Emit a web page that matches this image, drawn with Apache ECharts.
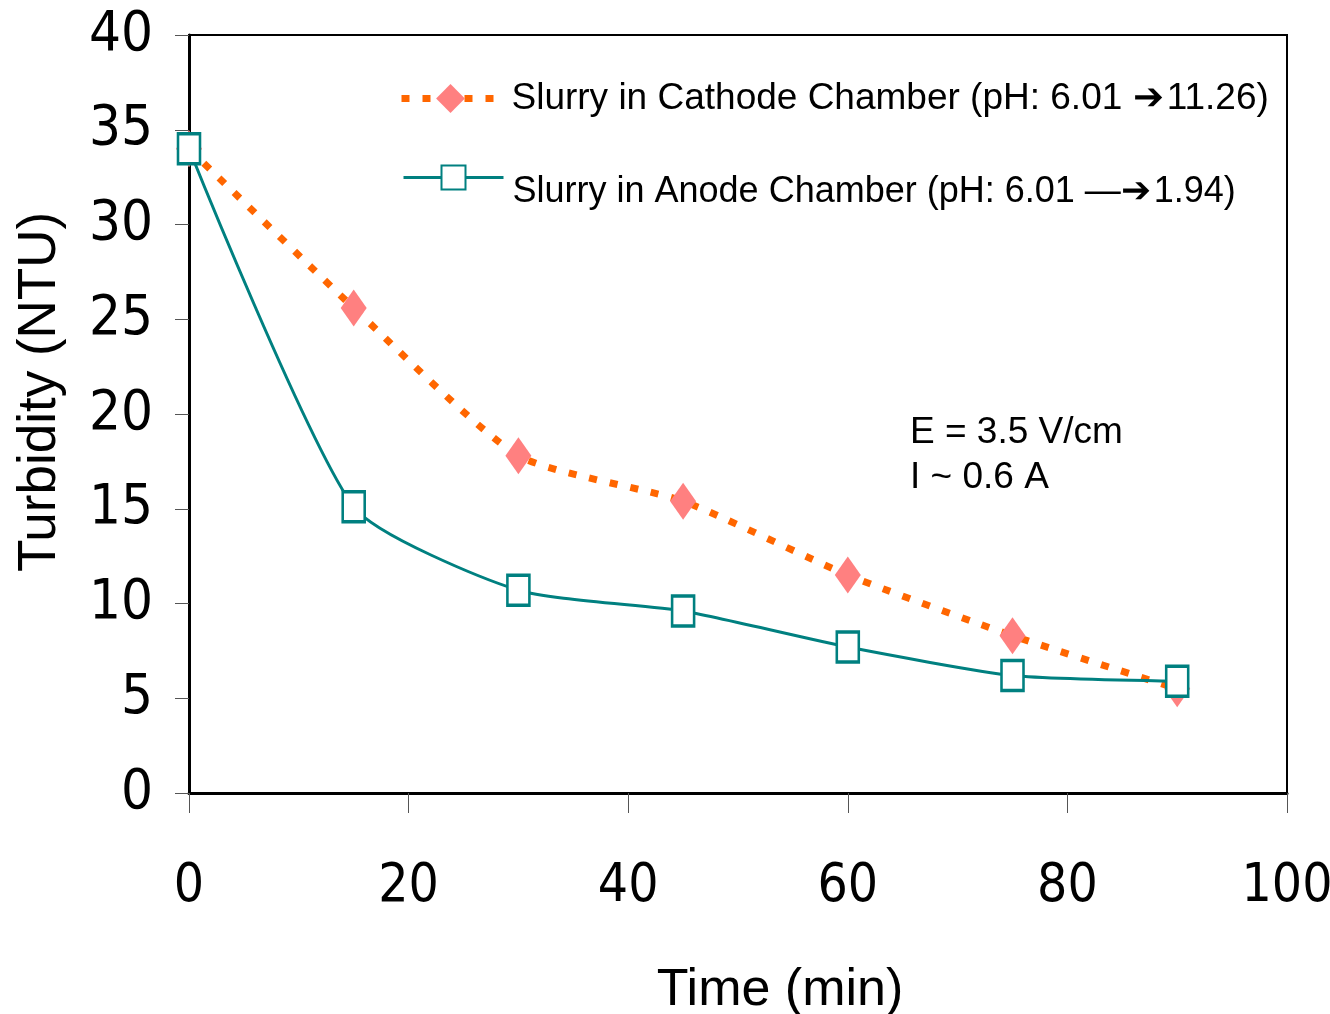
<!DOCTYPE html>
<html>
<head>
<meta charset="utf-8">
<title>Turbidity vs Time</title>
<script src="https://cdn.jsdelivr.net/npm/echarts@6/dist/echarts.min.js"></script>
<style>
    html, body { margin: 0; padding: 0; background: #fff; }
    #chart { width: 1330px; height: 1014px; }
</style>
</head>
<body>
<div id="chart"></div>
<script>
// 数据：时间 (min) 与两个电极室的浊度 (NTU)
const timeMin = [0, 15, 30, 45, 60, 75, 90];
const cathodeTurbidity = [34.0, 25.6, 17.8, 15.4, 11.5, 8.3, 5.5];
const anodeTurbidity = [34.0, 15.1, 10.7, 9.6, 7.7, 6.2, 5.9];
const cathodeName = 'Slurry in Cathode Chamber (pH: 6.01 \u2794\u200a11.26)';
const anodeName = 'Slurry in Anode Chamber (pH: 6.01 \u2014\u2794\u200a1.94)';
const noteLines = ['E = 3.5 V/cm', 'I ~ 0.6 A'];

const narrowFont = "'Liberation Sans Narrow', 'DejaVu Sans Condensed', 'Liberation Sans', sans-serif";
const mainFont = "'Liberation Sans', Arial, sans-serif";

const chart = echarts.init(document.getElementById('chart'));

function toPairs(xs, ys) {
    return xs.map((x, i) => [x, ys[i]]);
}

chart.setOption({
    animation: false,
    grid: {
        left: 189, top: 35, right: 43, bottom: 221,
        outerBoundsMode: 'none',
        show: true, borderColor: '#000', borderWidth: 2
    },
    xAxis: {
        type: 'value', min: 0, max: 100, interval: 20,
        name: 'Time (min)', nameLocation: 'middle', nameGap: 172,
        nameTextStyle: { fontFamily: mainFont, fontSize: 52, color: '#000', padding: [0, 0, 0, 84] },
        axisLine: { lineStyle: { color: '#000', width: 3 } },
        axisTick: { show: true, length: 20, inside: false, lineStyle: { color: '#555', width: 1 } },
        axisLabel: { fontFamily: narrowFont, fontSize: 53, color: '#000', margin: 68 },
        splitLine: { show: false }
    },
    yAxis: {
        type: 'value', min: 0, max: 40, interval: 5,
        name: 'Turbidity (NTU)', nameLocation: 'middle', nameGap: 122,
        nameTextStyle: { fontFamily: mainFont, fontSize: 53, color: '#000', padding: [0, 0, 0, 44] },
        axisLine: { lineStyle: { color: '#000', width: 3 } },
        axisTick: { show: true, length: 14, inside: false, lineStyle: { color: '#555', width: 1 } },
        axisLabel: { fontFamily: narrowFont, fontSize: 56, color: '#000', margin: 36 },
        splitLine: { show: false }
    },
    legend: [{
        data: [cathodeName],
        left: 393, top: 75,
        itemWidth: 98, itemHeight: 36,
        lineStyle: { width: 7, type: [8, 13] },
        textStyle: { fontFamily: mainFont, fontSize: 37, color: '#000', padding: [0, 0, 0, 7] }
    }, {
        data: [anodeName],
        left: 397, top: 152,
        itemWidth: 100, itemHeight: 30,
        lineStyle: { width: 3 },
        // 图例文字比图标低一些（参考图样式）
        formatter: name => '{sp| }\n{t|' + name + '}',
        textStyle: {
            color: '#000', padding: [0, 0, 0, 4],
            rich: {
                sp: { fontSize: 1, lineHeight: 30 },
                t: { fontFamily: mainFont, fontSize: 36, lineHeight: 40, color: '#000' }
            }
        }
    }],
    graphic: [{
        type: 'text', left: 910, top: 410,
        style: {
            text: noteLines.join('\n'),
            font: '37px ' + mainFont,
            lineHeight: 45,
            fill: '#000'
        }
    }],
    series: [{
        name: cathodeName,
        type: 'line',
        data: toPairs(timeMin, cathodeTurbidity),
        smooth: 0.2,
        symbol: 'diamond',
        symbolSize: [26, 37],
        itemStyle: { color: '#FF8080' },
        lineStyle: { color: '#FF6600', width: 7, type: [8, 13] },
        z: 2
    }, {
        name: anodeName,
        type: 'line',
        data: toPairs(timeMin, anodeTurbidity),
        smooth: 0.2,
        symbol: 'rect',
        symbolSize: [22, 30],
        itemStyle: { color: '#fff', borderColor: '#008080', borderWidth: 3 },
        lineStyle: { color: '#008080', width: 3 },
        z: 3
    }]
});
</script>
</body>
</html>
